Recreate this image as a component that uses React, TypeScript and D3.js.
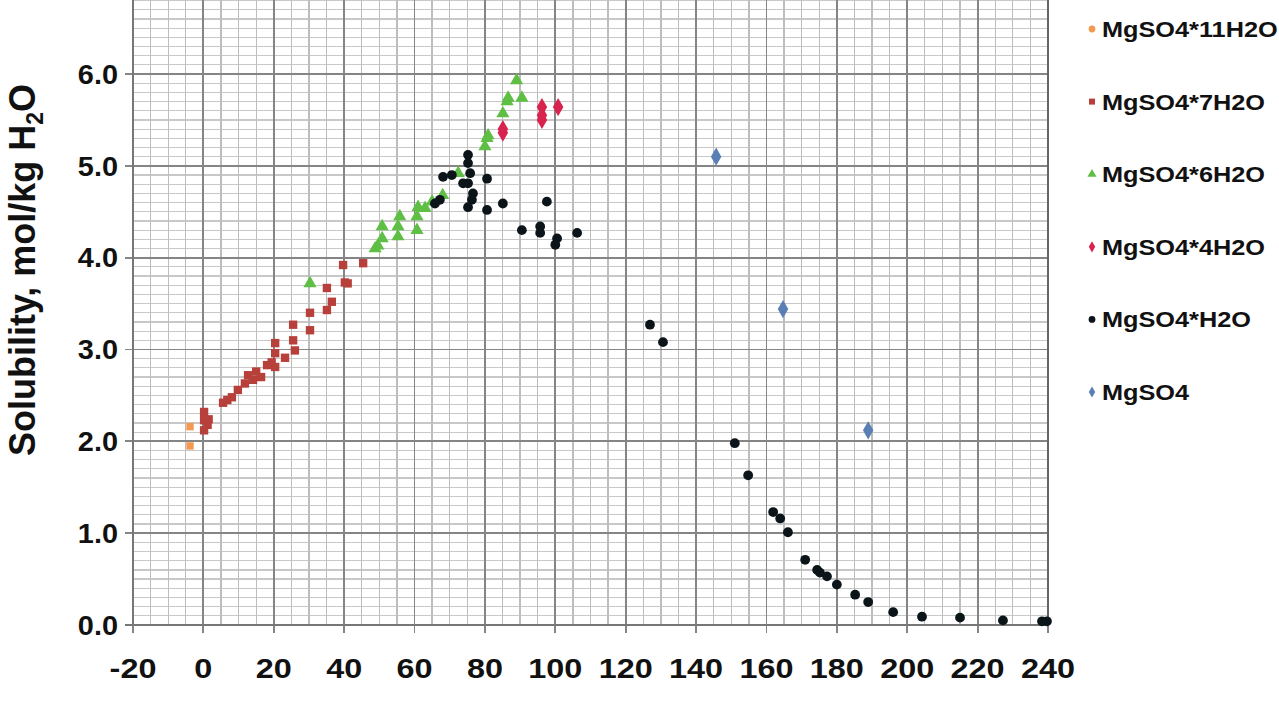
import React from 'react';
import * as d3 from 'd3';

// MgSO4 solubility data: [temperature °C, solubility mol/kg H2O]
const hydrate11: [number, number][] = [[-3.8, 2.16], [-3.8, 1.95]];

const hydrate7: [number, number][] = [
    [0.2, 2.32], [0.2, 2.23], [1.5, 2.24], [0.2, 2.12], [1.2, 2.18],
    [5.6, 2.42], [6.8, 2.45], [8.1, 2.48], [9.8, 2.56], [11.8, 2.63],
    [12.7, 2.72], [14.1, 2.67], [15.0, 2.76], [16.4, 2.70], [18.1, 2.83],
    [19.4, 2.86], [20.4, 3.07], [20.4, 2.96], [20.4, 2.81], [23.2, 2.91],
    [25.5, 3.27], [25.5, 3.10], [26.0, 2.99], [30.3, 3.40], [30.3, 3.21],
    [35.1, 3.67], [35.1, 3.43], [36.5, 3.52], [39.7, 3.92], [40.2, 3.73],
    [41.0, 3.72], [45.4, 3.94],
];

const hydrate6: [number, number][] = [
    [30.3, 3.72], [48.8, 4.10], [49.6, 4.13], [50.8, 4.21], [50.8, 4.34],
    [55.3, 4.23], [55.3, 4.34], [55.8, 4.45], [60.7, 4.30], [60.7, 4.45],
    [61.0, 4.55], [63.0, 4.54], [65.0, 4.61], [68.0, 4.68], [72.4, 4.92],
    [80.0, 5.21], [80.6, 5.30], [80.9, 5.33], [85.1, 5.57], [86.3, 5.70],
    [86.6, 5.74], [90.5, 5.74], [89.0, 5.93],
];

const hydrate4: [number, number][] = [
    [85.1, 5.36], [85.1, 5.40], [96.2, 5.64], [96.2, 5.55], [96.2, 5.50], [100.8, 5.64],
];

const hydrate1: [number, number][] = [
    [75.2, 5.12], [75.2, 5.03], [75.8, 4.92], [68.1, 4.88], [70.6, 4.90],
    [73.8, 4.81], [75.2, 4.81], [76.6, 4.70], [76.3, 4.63], [75.2, 4.55],
    [80.6, 4.86], [80.6, 4.52], [85.1, 4.59], [67.2, 4.63], [65.8, 4.59],
    [97.6, 4.61], [90.5, 4.30], [95.7, 4.34], [95.7, 4.27], [100.5, 4.21],
    [100.0, 4.14], [106.2, 4.27],
    [126.9, 3.27], [130.6, 3.08], [151.0, 1.98], [154.8, 1.63], [161.9, 1.23],
    [163.9, 1.16], [166.1, 1.01], [171.0, 0.71], [174.4, 0.60], [175.2, 0.57],
    [177.2, 0.53], [180.0, 0.44], [185.2, 0.33], [188.9, 0.25], [196.0, 0.14],
    [204.2, 0.09], [215.0, 0.08], [227.2, 0.05], [238.3, 0.04], [239.7, 0.04],
];

const anhydrous: [number, number][] = [[145.7, 5.10], [164.7, 3.44], [188.9, 2.12]];

const seriesNames = ['MgSO4*11H2O', 'MgSO4*7H2O', 'MgSO4*6H2O', 'MgSO4*4H2O', 'MgSO4*H2O', 'MgSO4'];
const seriesData = [hydrate11, hydrate7, hydrate6, hydrate4, hydrate1, anhydrous];
const seriesColors = ['#f39a52', '#b8403b', '#5fbf45', '#d8234f', '#0b1418', '#5a7fb5'];
const seriesShapes = [d3.symbolSquare, d3.symbolSquare, d3.symbolTriangle, d3.symbolDiamond, d3.symbolCircle, d3.symbolDiamond];
const seriesSizes = [55, 70, 75, 95, 75, 95];

const xTicks = d3.range(-20, 241, 20);
const yTicks = d3.range(0, 7, 1);

const W = 1279;
const H = 720;
const FONT = '"Liberation Sans", Arial, sans-serif';

export default function App() {
    const x = d3.scaleLinear().domain([-20, 240]).range([133, 1048]);
    const y = d3.scaleLinear().domain([0, 7]).range([625, 625 - 7 * 91.83]);

    const minorX = d3.range(-20, 241, 5).filter(v => v % 20 !== 0);
    const minorY = d3.range(0, 7.01, 0.1).filter((_, i) => i % 10 !== 0);

    return (
        <div style={{ position: 'absolute', left: 0, top: 0 }}>
            <svg width={W} height={H} style={{ display: 'block', background: '#fff' }}>
                <g shapeRendering="crispEdges">
                    {minorY.map(v => (
                        <line key={'my' + v} x1={x(-20)} x2={x(240)} y1={y(v)} y2={y(v)} stroke="#c8c8c8" strokeWidth={1.2} />
                    ))}
                    {minorX.map(v => (
                        <line key={'mx' + v} x1={x(v)} x2={x(v)} y1={y(0)} y2={y(7)} stroke="#bdbdbd" strokeWidth={1.3} />
                    ))}
                    {yTicks.map(v => (
                        <line key={'gy' + v} x1={x(-20) - 8} x2={x(240)} y1={y(v)} y2={y(v)} stroke="#858585" strokeWidth={1.8} />
                    ))}
                    {xTicks.map(v => (
                        <line key={'gx' + v} x1={x(v)} x2={x(v)} y1={y(0) + 8} y2={y(7)} stroke="#858585" strokeWidth={1.8} />
                    ))}
                    <line x1={x(240)} x2={x(240)} y1={y(0)} y2={y(7)} stroke="#666" strokeWidth={2.2} />
                    <line x1={x(-20)} x2={x(-20)} y1={y(0)} y2={y(7)} stroke="#777" strokeWidth={1.8} />
                    <line x1={x(-20) - 8} x2={x(240)} y1={y(0)} y2={y(0)} stroke="#777" strokeWidth={1.8} />
                </g>

                {yTicks.map(v => (
                    <text key={'ty' + v} transform={`translate(118,${y(v)}) scale(1.07,1)`} dy="0.36em" textAnchor="end"
                        fontFamily={FONT} fontWeight="bold" fontSize={27} fill="#111">
                        {v.toFixed(1)}
                    </text>
                ))}
                {xTicks.map(v => (
                    <text key={'tx' + v} transform={`translate(${x(v)},678) scale(1.2,1)`} textAnchor="middle"
                        fontFamily={FONT} fontWeight="bold" fontSize={27} fill="#111">
                        {v}
                    </text>
                ))}

                <text transform={`translate(35,270) rotate(-90) scale(1,1.05)`} textAnchor="middle"
                    fontFamily={FONT} fontWeight="bold" fontSize={36} fill="#111">
                    Solubility, mol/kg H<tspan fontSize={23} dy={8}>2</tspan><tspan dy={-8}>O</tspan>
                </text>
                <text x={590} y={742} textAnchor="middle" fontFamily={FONT} fontWeight="bold" fontSize={30} fill="#111">
                    Temperature, °C
                </text>

                {seriesData.map((data, si) => (
                    <g key={seriesNames[si]}>
                        {data.map((d, i) => (
                            <path key={i}
                                transform={`translate(${x(d[0])},${y(d[1])})`}
                                d={d3.symbol(seriesShapes[si], seriesSizes[si])() || ''}
                                fill={seriesColors[si]} />
                        ))}
                    </g>
                ))}

                {seriesNames.map((name, i) => (
                    <g key={'lg' + name} transform={`translate(1092,${29 + i * 72.6})`}>
                        <path d={d3.symbol(seriesShapes[i === 0 ? 4 : i], 36)() || ''} fill={seriesColors[i]} />
                        <text transform="translate(10,0) scale(1.15,1)" dy="0.36em" fontFamily={FONT} fontWeight="bold" fontSize={22} fill="#111">
                            {name}
                        </text>
                    </g>
                ))}
            </svg>
        </div>
    );
}
